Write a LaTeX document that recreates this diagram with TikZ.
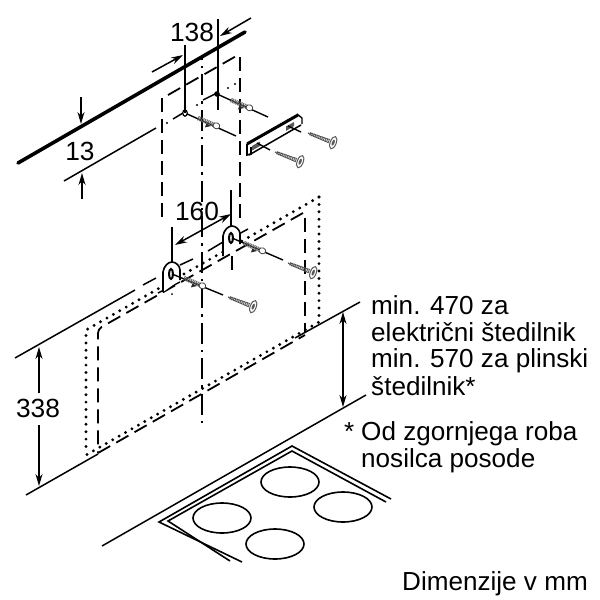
\documentclass[tikz,border=0pt]{standalone}
\usepackage{fontspec}
\setmainfont{Liberation Sans}
\usetikzlibrary{arrows.meta}
\tikzset{
  x=1pt,y=-1pt,
  thinl/.style={line width=1.5pt,black},
  dim/.style={line width=1.5pt,{Stealth[length=12pt,width=7pt]}-{Stealth[length=12pt,width=7pt]}},
  dimend/.style={line width=1.5pt,-{Stealth[length=12pt,width=7pt]}},
  dashl/.style={line width=1.8pt,dash pattern=on 14pt off 7pt},
  dotl/.style={line width=3.2pt,line cap=round,dash pattern=on 0pt off 7.4pt},
  chain/.style={line width=2.8pt,dash pattern=on 2.5pt off 6pt on 21pt off 6pt},
  hob/.style={line width=1.6pt},
  ring/.style={line width=1.6pt},
  lbl/.style={font=\fontsize{26.1pt}{27pt}\selectfont,inner sep=0pt,anchor=base west},
  dimlbl/.style={font=\fontsize{26.3pt}{27pt}\selectfont,inner sep=0pt,anchor=center},
  screw/.pic={
    \draw[line width=3.4pt,black!60,dash pattern=on 1pt off .8pt] (2,0)--(23,0);
    \draw[line width=.7pt,black!70] (0,0)--(3,-.8)--(23,-1.8);
    \draw[line width=.7pt,black!70] (0,0)--(3,.8)--(23,1.8);
    \draw[line width=1pt,black!65,fill=white] (27,0) ellipse (3 and 6.5);
    \fill[black!65] (27,0) ellipse (1.3 and 3.2);
  },
  dowel/.pic={
    \draw[line width=4.6pt,black!60,dash pattern=on 1pt off .8pt] (0,0)--(18,0);
    \fill[black!85] (10,2) -- (15,2.3) -- (10,6) -- cycle;
    \draw[line width=.8pt,black!75,fill=white] (20,0) ellipse (3.4 and 3);
  },
  holder/.pic={
    \draw[line width=1.6pt,fill=white] (-9,18) -- (-9,-2) .. controls (-8,-8) and (-4,-12) .. (0,-12) .. controls (4,-12) and (8,-8) .. (8,-4) -- (8,6);
    \draw[line width=2pt] (-1,0) ellipse (2 and 5);
  }
}
\begin{document}
\begin{tikzpicture}
\useasboundingbox (0,0) rectangle (600,600);

% upper wall lines
\coordinate (tl) at (18,163); \coordinate (tr) at (245,32);
\draw[line width=3.6pt,line cap=round] (tl) -- (tr);
\draw[thinl] (64,181) -- (156,128);
\draw[thinl] (173,119) -- (183,113);
\draw[thinl] (203,100) -- (217,93);
\fill (167,123) circle (1.1) (197,105) circle (1.1) (228,88) circle (1.1) (235,84) circle (1.1);

% dashed chimney outline
\draw[dashl] (162,98) -- (162,217);
\draw[dashl] (168,95) -- (238,55);
\draw[dashl] (240,57) -- (240,218);

% centre line
\draw[chain] (202,423) -- (202,58);

% wall/band lines lower
\draw[thinl] (15,358) -- (135,290);
\draw[thinl] (26,495) -- (98,454);
\draw[thinl] (295,338) -- (360,302);
\draw[thinl] (102,546) -- (366,395);

% dotted + dashed frames
\draw[dotl] (319,197) -- (86,330) -- (86,453);
\draw[dotl] (319,197) -- (319,322) -- (86,455);
\draw[dashl,rounded corners=4pt] (303,213) -- (98,329) -- (98,453);
\draw[dashl] (305,218) -- (305,332);
\draw[dashl] (98,453) -- (305,335);

% holder band segments
\draw[thinl] (143,285) -- (156,278);
\draw[thinl] (180,265) -- (193,259);
\draw[thinl] (208,251) -- (223,242);
\draw[thinl] (237,235) -- (248,229);
\draw[thinl] (158,293) -- (180,282);

% hob
\draw[hob] (391,499) -- (292,446) -- (159,522) -- (242,562);
\draw[hob] (386,502) -- (292,451) -- (168,521) -- (230,561);
\draw[ring] (290,482) ellipse (29 and 15);
\draw[ring] (222,518) ellipse (29 and 15);
\draw[ring] (343,507) ellipse (29 and 15);
\draw[ring] (275,544) ellipse (29 and 15);

% upper holes, dowels
\draw[line width=1.4pt] (185,113) -- (236,136);
\draw[line width=1.4pt] (217,94) -- (268,117);
\draw[line width=1.2pt,fill=white] (185,113) ellipse (2.2 and 3.2);
\fill (217,94) circle (2.8);
\pic[rotate=-23] at (198,118) {dowel};
\pic[rotate=-23] at (231,100) {dowel};

% rail
\draw[line width=1.4pt,line join=round] (297,114) -- (302,118) -- (302,124);
\draw[line width=3pt] (247,144) -- (298,115);
\draw[line width=1.5pt] (249,155) -- (301,125);
\draw[line width=1.6pt] (247,144) -- (247,155) -- (251,154) -- (251,147);
\fill[black!65] (252,146) -- (260,141.5) -- (260,146) -- (252,150.5) -- cycle;
\fill[black!65] (286,126.5) -- (294,122) -- (294,126) -- (286,131) -- cycle;
\draw[line width=1.4pt] (257,143) -- (270,150);
\draw[line width=1.4pt] (288,126) -- (301,132);
\pic[rotate=-21] at (308,133) {screw};
\pic[rotate=-21] at (275,152) {screw};

% lower dowels, holders
\pic at (172,274) {holder};
\pic at (232,238) {holder};
\draw[line width=1.4pt] (172,274) -- (223,295);
\draw[line width=1.4pt] (232,238) -- (283,260);
\pic[rotate=-23] at (184,278) {dowel};
\pic[rotate=-23] at (244,243) {dowel};
\pic[rotate=-21] at (228,297) {screw};
\pic[rotate=-21] at (288,263) {screw};
\fill (172,294) circle (1);
\draw[dashl] (232,256) -- (232,272);

% dimensions
\draw[thinl] (185,45) -- (185,113);
\draw[thinl] (218,19) -- (218,110);
\draw[dimend] (152,72) -- (183,55);
\draw[dimend] (251,18) -- (220,36);
\draw[dimend] (81,97) -- (81,124);
\draw[dimend] (82,199) -- (82,173);
\draw[thinl] (172,227) -- (172,262);
\draw[thinl] (231,190) -- (231,226);
\draw[dim] (175,245) -- (231,214);
\draw[dimend] (39,393) -- (39,347);
\draw[dimend] (39,425) -- (39,486);
\draw[dim] (343,312) -- (343,407);

% labels
\node[dimlbl] (d138) at (192,32) {138};
\node[dimlbl] (d13) at (80,151) {13};
\node[dimlbl] (d160) at (197,211) {160};
\node[dimlbl] (d338) at (38,408) {338};
\node[lbl] (t1) at (371,314) {min. 470 za};
\node[lbl] (t2) at (371,341) {električni štedilnik};
\node[lbl] (t3) at (371,367) {min. 570 za plinski};
\node[lbl] (t4) at (371,395) {štedilnik*};
\node[lbl] (t5) at (344,440) {*};
\node[lbl] (t6) at (361,440) {Od zgornjega roba};
\node[lbl] (t7) at (361,467) {nosilca posode};
\node[lbl] (t8) at (402,590) {Dimenzije v mm};
\end{tikzpicture}
\end{document}
